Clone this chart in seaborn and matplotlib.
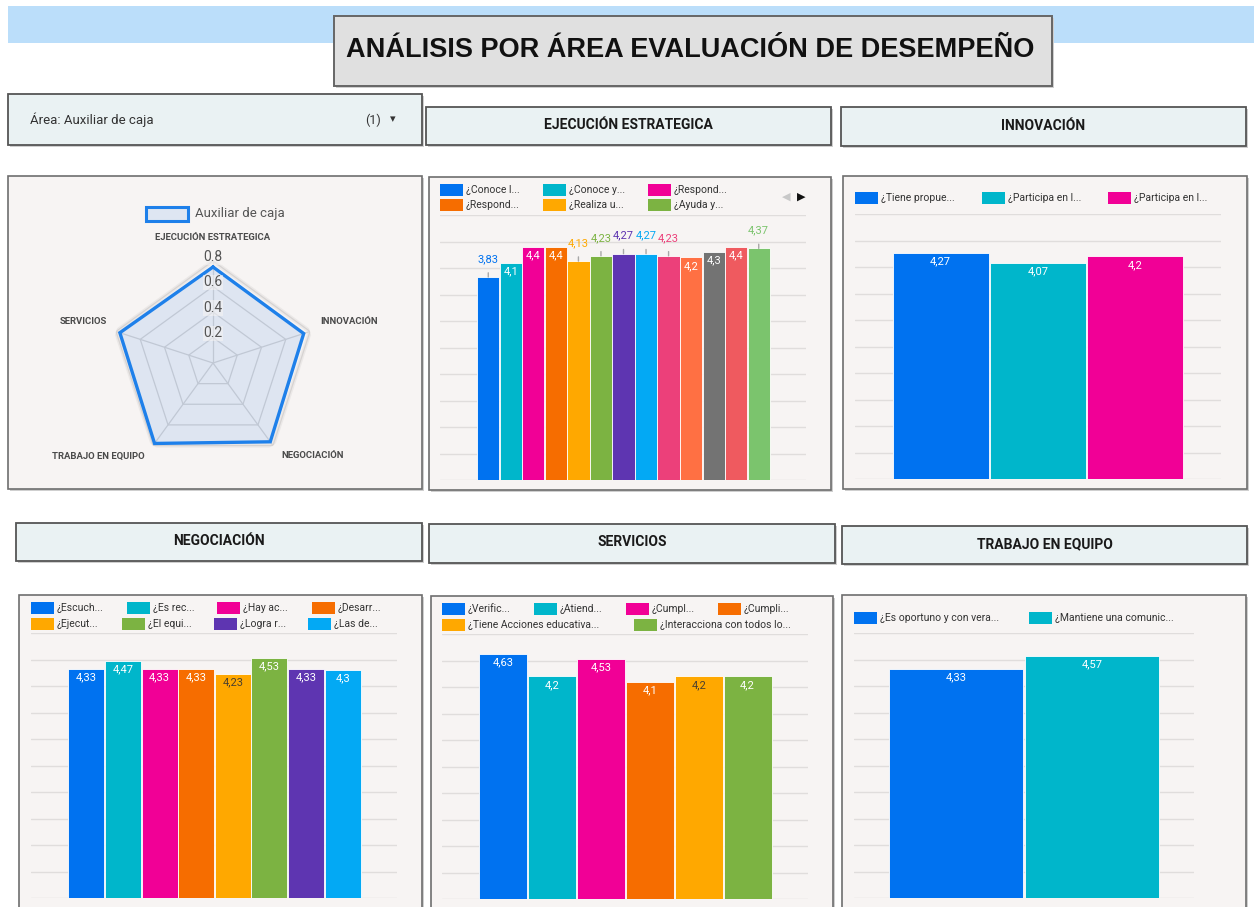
import numpy as np
import pandas as pd
import matplotlib
matplotlib.use("Agg")
import matplotlib.pyplot as plt
from matplotlib.patches import Rectangle
import seaborn as sns

sns.set_theme(style="white")
plt.rcParams["font.family"] = ["Roboto", "DejaVu Sans"]

# ---------------------------------------------------------------- data
titulo = "ANÁLISIS POR ÁREA EVALUACIÓN DE DESEMPEÑO"
filtro_area = "Área: Auxiliar de caja"
area = "Auxiliar de caja"

radar_ejes = ["EJECUCIÓN ESTRATEGICA", "INNOVACIÓN", "NEGOCIACIÓN",
              "TRABAJO EN EQUIPO", "SERVICIOS"]
radar_valores = [0.753, 0.748, 0.764, 0.780, 0.768]
radar_ticks = [0.2, 0.4, 0.6, 0.8]

ejec_valores = [3.83, 4.1, 4.4, 4.4, 4.13, 4.23, 4.27, 4.27, 4.23, 4.2, 4.3, 4.4, 4.37]
ejec_leyenda = ["¿Conoce l...", "¿Conoce y...", "¿Respond...",
                "¿Respond...", "¿Realiza u...", "¿Ayuda y..."]

innov_valores = [4.27, 4.07, 4.2]
innov_leyenda = ["¿Tiene propue...", "¿Participa en l...", "¿Participa en l..."]

negoc_valores = [4.33, 4.47, 4.33, 4.33, 4.23, 4.53, 4.33, 4.3]
negoc_leyenda = ["¿Escuch...", "¿Es rec...", "¿Hay ac...", "¿Desarr...",
                 "¿Ejecut...", "¿El equi...", "¿Logra r...", "¿Las de..."]

serv_valores = [4.63, 4.2, 4.53, 4.1, 4.2, 4.2]
serv_leyenda = ["¿Verific...", "¿Atiend...", "¿Cumpl...", "¿Cumpli...",
                "¿Tiene Acciones educativa...", "¿Interacciona con todos lo..."]

equipo_valores = [4.33, 4.57]
equipo_leyenda = ["¿Es oportuno y con vera...", "¿Mantiene una comunic..."]

paleta = ["#0072F0", "#00B6CB", "#F10096", "#F66D00", "#FFA800", "#7CB342",
          "#5E35B1", "#03A9F4", "#EC407A", "#FF7043", "#737373", "#EF5A5F",
          "#7BC46D"]

# ---------------------------------------------------------------- canvas
W, H = 1254, 907
fig = plt.figure(figsize=(W / 100, H / 100), dpi=100)
fig.patch.set_facecolor("white")

PANEL_BG = "#F7F4F3"
HEADER_BG = "#EAF2F3"


def fx(x):
    return x / W


def fy(y):
    return 1 - y / H


def caja(x0, y0, x1, y1, face, edge="#5c5c5c", lw=1.2, sombra=True, z=-5):
    if sombra:
        fig.patches.append(Rectangle((fx(x0 + 2), fy(y1 + 2)), (x1 - x0) / W, (y1 - y0) / H,
                                     transform=fig.transFigure, facecolor="#cfcfcf",
                                     edgecolor="none", zorder=z))
    fig.patches.append(Rectangle((fx(x0), fy(y1)), (x1 - x0) / W, (y1 - y0) / H,
                                 transform=fig.transFigure, facecolor=face,
                                 edgecolor=edge, linewidth=lw, zorder=z + 0.1))


def encabezado(x0, y0, x1, y1, texto):
    caja(x0, y0, x1, y1, HEADER_BG, edge="#555555", lw=1.3)
    fig.text(fx((x0 + x1) / 2), fy((y0 + y1) / 2 - 1), texto, ha="center", va="center",
             fontsize=10, fontweight="bold", color="#1a1a1a")


def leyenda(textos, colores, y, lefts):
    for t, c, x in zip(textos, colores, lefts):
        fig.patches.append(Rectangle((fx(x), fy(y + 6)), 23 / W, 12 / H,
                                     transform=fig.transFigure, facecolor=c,
                                     edgecolor="none", zorder=3))
        fig.text(fx(x + 26), fy(y), t, ha="left", va="center", fontsize=7.5,
                 color="#333333", zorder=3)


def fmt(v):
    return f"{v:g}".replace(".", ",")


def barras(valores, colores, grid_px, bar_px, base_y, top_y, fuera=()):
    gx0, gx1 = grid_px
    bx0, bx1 = bar_px
    n = len(valores)
    ax = fig.add_axes([fx(gx0), fy(base_y), (gx1 - gx0) / W, (base_y - top_y) / H])
    df = pd.DataFrame({"pregunta": [f"P{i + 1}" for i in range(n)], "promedio": valores})
    sns.barplot(data=df, x="pregunta", y="promedio", hue="pregunta",
                palette=colores[:n], legend=False, width=0.985, saturation=1,
                errorbar=None, ax=ax, zorder=2, linewidth=0.6, edgecolor="#ffffff")
    unidad = (bx1 - bx0) / n
    ax.set_xlim(-0.5 - (bx0 - gx0) / unidad, n - 0.5 + (gx1 - bx1) / unidad)
    ax.set_ylim(0, 5)
    ax.set_yticks(np.arange(0, 5.01, 0.5))
    ax.grid(axis="y", color="#e0dddc", linewidth=1.0, zorder=0)
    ax.set_axisbelow(True)
    ax.tick_params(left=False, bottom=False, labelleft=False, labelbottom=False)
    ax.set_xlabel("")
    ax.set_ylabel("")
    ax.patch.set_alpha(0)
    for s in ax.spines.values():
        s.set_visible(False)
    for i, (v, c) in enumerate(zip(valores, colores)):
        if i in fuera:
            ax.annotate(fmt(v), xy=(i, v), xytext=(0, 13), textcoords="offset points",
                        ha="center", va="center", fontsize=8, color=c,
                        arrowprops=dict(arrowstyle="-", color="#a8a8a8", lw=1,
                                        shrinkA=4, shrinkB=0))
        else:
            col = "#4a4030" if c == "#FFA800" else "white"
            ax.annotate(fmt(v), xy=(i, v), xytext=(0, -6), textcoords="offset points",
                        ha="center", va="center", fontsize=8, color=col)
    return ax


# ---------------------------------------------------------------- header area
fig.patches.append(Rectangle((fx(8), fy(43)), (W - 8) / W, 37 / H, transform=fig.transFigure,
                             facecolor="#BBDEFA", edgecolor="none", zorder=-8))
caja(334, 16, 1052, 86, "#E0E0E0", edge="#666666", lw=1.4)
fig.text(fx(690), fy(50), titulo, ha="center", va="center", fontsize=19.5,
         fontweight="bold", family=["Liberation Sans", "DejaVu Sans"], color="#111111")

caja(8, 94, 422, 145, HEADER_BG, edge="#555555", lw=1.3)
fig.text(fx(30), fy(120), filtro_area, ha="left", va="center", fontsize=9.5, color="#333333")
fig.text(fx(373), fy(120), "(1)", ha="center", va="center", fontsize=9, color="#333333")
fig.text(fx(393), fy(119), "▾", ha="center", va="center", fontsize=8, color="#333333",
         family=["DejaVu Sans"])

encabezado(426, 107, 831, 145, "EJECUCIÓN ESTRATEGICA")
encabezado(841, 107, 1246, 146, "INNOVACIÓN")
encabezado(16, 523, 422, 561, "NEGOCIACIÓN")
encabezado(429, 524, 835, 563, "SERVICIOS")
encabezado(842, 526, 1247, 564, "TRABAJO EN EQUIPO")

# ---------------------------------------------------------------- panels
for (x0, y0, x1, y1) in [(8, 176, 422, 489), (429, 177, 831, 490), (843, 176, 1247, 489),
                         (19, 595, 422, 930), (431, 596, 833, 930), (842, 595, 1246, 930)]:
    caja(x0, y0, x1, y1, PANEL_BG, edge="#6e6e6e", lw=1.2)

# ---------------------------------------------------------------- radar
cx, cy, R = 213, 363, 102
axr = fig.add_axes([fx(cx - R), fy(cy + R), 2 * R / W, 2 * R / H], projection="polar")
axr.set_theta_offset(np.pi / 2)
axr.set_theta_direction(-1)
axr.set_ylim(0, 0.8)
axr.grid(False)
axr.set_xticks([])
axr.set_yticks([])
axr.spines["polar"].set_visible(False)
axr.patch.set_alpha(0)

ang = np.linspace(0, 2 * np.pi, len(radar_ejes), endpoint=False)
ang_c = np.append(ang, ang[0])
axr.plot(ang_c, [0.8] * len(ang_c), color="#ebe8e7", lw=3, zorder=1)
for r in radar_ticks:
    axr.plot(ang_c, [r] * len(ang_c), color="#d6d3d2", lw=0.9, zorder=1)
for a in ang:
    axr.plot([a, a], [0, 0.8], color="#d6d3d2", lw=0.9, zorder=1)

vals_c = radar_valores + radar_valores[:1]
axr.fill(ang_c, vals_c, color="#2B7DE9", alpha=0.12, zorder=2, lw=0)
axr.plot(ang_c, vals_c, color="#1E80EA", lw=2.4, zorder=3, solid_joinstyle="miter")

for r in radar_ticks:
    axr.annotate(f"{r:g}", xy=(0, r), xytext=(0, 3), textcoords="offset points",
                 ha="center", va="center", fontsize=10, color="#555555", zorder=4,
                 bbox=dict(boxstyle="square,pad=0.05", fc=PANEL_BG, ec="none", alpha=0.55))

etiquetas_pos = [(213, 238), (349, 321), (313, 456), (98, 456), (83, 321)]
for texto, (px, py) in zip(radar_ejes, etiquetas_pos):
    fig.text(fx(px), fy(py), texto, ha="center", va="center", fontsize=6.8,
             fontweight="bold", color="#4a4a4a")

fig.patches.append(Rectangle((fx(146), fy(221)), 42 / W, 14 / H, transform=fig.transFigure,
                             facecolor="#DEE6F2", edgecolor="#1E80EA", linewidth=2.2, zorder=3))
fig.text(fx(195), fy(213), area, ha="left", va="center", fontsize=9.5, color="#555555")

# ---------------------------------------------------------------- bar charts
barras(ejec_valores, paleta, (440, 806), (477, 770), 480, 215, fuera={0, 4, 5, 6, 7, 8, 12})
leyenda(ejec_leyenda[:3], paleta[:3], 190, [440, 543, 648])
leyenda(ejec_leyenda[3:], paleta[3:6], 205, [440, 543, 648])
fig.text(fx(786), fy(197), "◀", ha="center", va="center", fontsize=8, color="#c8c8c8",
         family=["DejaVu Sans"])
fig.text(fx(801), fy(197), "▶", ha="center", va="center", fontsize=8, color="#111111",
         family=["DejaVu Sans"])

barras(innov_valores, paleta, (855, 1221), (892, 1184), 479, 214)
leyenda(innov_leyenda, paleta[:3], 198, [855, 982, 1108])

barras(negoc_valores, paleta, (31, 397), (68, 361), 898, 633)
leyenda(negoc_leyenda[:4], paleta[:4], 608, [31, 127, 217, 312])
leyenda(negoc_leyenda[4:], paleta[4:8], 624, [31, 122, 214, 308])

barras(serv_valores, paleta, (442, 808), (479, 772), 899, 634)
leyenda(serv_leyenda[:4], paleta[:4], 609, [442, 534, 626, 718])
leyenda(serv_leyenda[4:], paleta[4:6], 625, [442, 634])

barras(equipo_valores, paleta, (854, 1194), (888, 1160), 898, 633)
leyenda(equipo_leyenda, paleta[:2], 618, [854, 1029])

fig.savefig("out.png", dpi=100)
